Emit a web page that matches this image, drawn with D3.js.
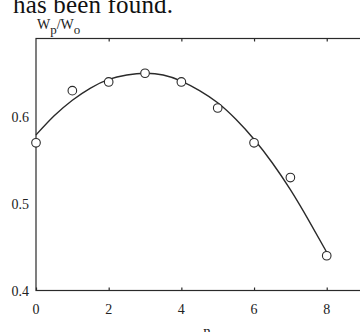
<!DOCTYPE html>
<html>
<head>
<meta charset="utf-8">
<script src="https://cdn.jsdelivr.net/npm/d3@7"></script>
</head>
<body style="margin:0">
<svg width="360" height="332"></svg>
<script>
const serif = '"Liberation Serif"';

// measured points
const nValues = [0, 1, 2, 3, 4, 5, 6, 7, 8];
const ratioValues = [0.57, 0.63, 0.64, 0.65, 0.64, 0.61, 0.57, 0.53, 0.44];

// fitted curve
const fitN = [0, 0.5, 1, 1.5, 2, 2.5, 3, 3.5, 4, 4.5, 5, 5.5, 6, 6.5, 7, 7.5, 8];
const fitRatio = [0.579, 0.601, 0.619, 0.633, 0.643, 0.648, 0.650, 0.648, 0.641,
                  0.630, 0.616, 0.597, 0.574, 0.547, 0.516, 0.481, 0.444];

const xTicks = [0, 2, 4, 6, 8];
const yTicks = [0.4, 0.5, 0.6];

const svg = d3.select("svg");

const x = d3.scaleLinear()
    .domain([0, 10])
    .range([36, 399.4]);

const y = d3.scaleLinear()
    .domain([0.4, 0.69])
    .range([290.5, 38.5]);

const ink = "#2a2a2a";

// frame
svg.append("rect")
    .attr("x", x(0))
    .attr("y", y(0.69))
    .attr("width", x(10) - x(0))
    .attr("height", y(0.4) - y(0.69))
    .attr("fill", "none")
    .attr("stroke", ink)
    .attr("stroke-width", 1.2);

// bottom ticks (inward)
const gx = svg.append("g")
    .attr("transform", `translate(0,${y(0.4)})`)
    .call(d3.axisBottom(x).tickValues(xTicks).tickSize(-3).tickFormat(""));
gx.select(".domain").remove();
gx.selectAll(".tick line").attr("stroke", ink).attr("stroke-width", 1.2);

// top ticks (inward)
const gt = svg.append("g")
    .attr("transform", `translate(0,${y(0.69)})`)
    .call(d3.axisTop(x).tickValues(xTicks.slice(1)).tickSize(-3).tickFormat(""));
gt.select(".domain").remove();
gt.selectAll(".tick line").attr("stroke", ink).attr("stroke-width", 1.2);

// fitted curve
const line = d3.line()
    .x((d, i) => x(fitN[i]))
    .y(d => y(d))
    .curve(d3.curveNatural);

svg.append("path")
    .datum(fitRatio)
    .attr("d", line)
    .attr("fill", "none")
    .attr("stroke", ink)
    .attr("stroke-width", 1.4);

// data points
svg.append("g")
    .selectAll("circle")
    .data(ratioValues)
    .enter()
    .append("circle")
    .attr("cx", (d, i) => x(nValues[i]))
    .attr("cy", d => y(d))
    .attr("r", 4.3)
    .attr("fill", "#fff")
    .attr("stroke", ink)
    .attr("stroke-width", 1.1);

// line of page text above the figure
svg.append("text")
    .attr("x", 13).attr("y", 12.5)
    .style("font-family", serif).attr("font-size", 25)
    .attr("textLength", 160)
    .attr("fill", "#111")
    .text("has been found.");

svg.selectAll("text.xt")
    .data(xTicks)
    .enter()
    .append("text")
    .attr("class", "xt")
    .attr("x", d => x(d)).attr("y", y(0.4) + 23)
    .attr("text-anchor", "middle")
    .style("font-family", serif).attr("font-size", 14)
    .attr("fill", "#222")
    .text(d3.format("d"));

svg.selectAll("text.yt")
    .data(yTicks)
    .enter()
    .append("text")
    .attr("class", "yt")
    .attr("x", x(0) - 7).attr("y", d => y(d) + 5)
    .attr("text-anchor", "end")
    .style("font-family", serif).attr("font-size", 14)
    .attr("fill", "#222")
    .text(d3.format(".1f"));

// y label W_p/W_o
const yl = svg.append("text")
    .attr("x", 37).attr("y", 28.5)
    .style("font-family", serif).attr("font-size", 14)
    .attr("fill", "#222");
yl.append("tspan").text("W");
yl.append("tspan").attr("dy", 5).attr("font-size", 13).text("p");
yl.append("tspan").attr("dy", -5).text("/W");
yl.append("tspan").attr("dy", 5).attr("font-size", 13).text("o");

// x label
svg.append("text")
    .attr("x", 207).attr("y", 336)
    .attr("text-anchor", "middle")
    .style("font-family", serif).attr("font-size", 15)
    .attr("fill", "#222")
    .text("n");
</script>
</body>
</html>
